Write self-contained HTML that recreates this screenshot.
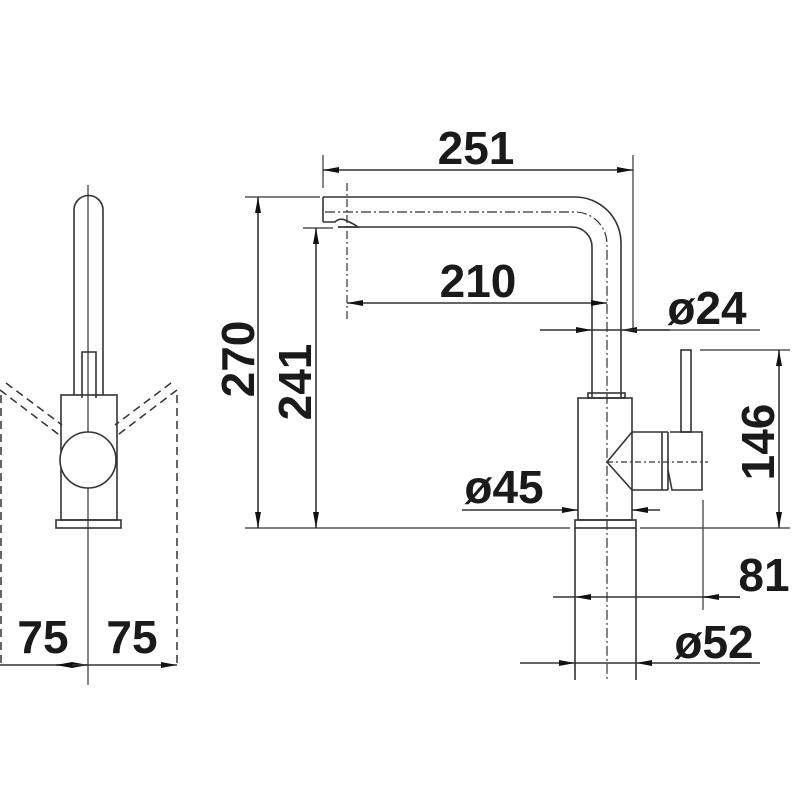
<!DOCTYPE html>
<html><head><meta charset="utf-8"><style>
html,body{margin:0;padding:0;background:#fff}
svg{display:block}
text{font-family:"Liberation Sans",sans-serif;font-weight:bold;font-size:46px;fill:#1a1a1a;text-anchor:middle}
</style></head><body>
<svg width="800" height="800" viewBox="0 0 800 800" xmlns="http://www.w3.org/2000/svg">
<defs>
<marker id="a" viewBox="0 0 16 6" refX="16" refY="3" markerWidth="16" markerHeight="6" markerUnits="userSpaceOnUse" orient="auto-start-reverse">
<path d="M0,0 L16,3 L0,6 Z" fill="#111"/></marker>
</defs>
<g stroke="#333" stroke-width="1.6" fill="none">
<!-- LEFT VIEW -->
<line x1="88" y1="185" x2="88" y2="685" stroke-width="1.2"/>
<path d="M74,395 V210 A14.5,14.5 0 0 1 103,210 V395"/>
<path d="M82,398 V352 H96 V398"/>
<rect x="61" y="395" width="56" height="125"/>
<rect x="56" y="520" width="65" height="8"/>
<circle cx="88" cy="460" r="28" fill="#fff"/>
<g stroke-dasharray="8,5" stroke-width="1.5">
<line x1="0" y1="390" x2="62" y2="437"/><line x1="6" y1="383" x2="62" y2="425"/>
<line x1="177" y1="390" x2="115" y2="437"/><line x1="171" y1="383" x2="115" y2="425"/>
<line x1="1" y1="395" x2="1" y2="665"/><line x1="177" y1="395" x2="177" y2="665"/>
</g>
<line x1="0" y1="665" x2="88" y2="665" marker-end="url(#a)"/>
<line x1="88" y1="665" x2="177" y2="665" marker-end="url(#a)"/>
<line x1="56" y1="665" x2="88" y2="665" marker-start="url(#a)"/>

<!-- MAIN VIEW spout -->
<path d="M323,197 H575 A46,46 0 0 1 621,243 V398"/>
<path d="M338,227 H572 A20,20 0 0 1 592,247 V398"/>
<line x1="323" y1="197" x2="323" y2="222"/>
<path d="M323,222 H335 Q340,217 347,221 Q354,224 358,227 H338"/>
<path d="M325,212 H575 A32,32 0 0 1 607,244 V680" stroke-dasharray="10,3,2,3" stroke-width="1.2"/>
<line x1="347" y1="183" x2="347" y2="320" stroke-dasharray="8,3,2,3" stroke-width="1.2"/>
<rect x="588" y="393" width="37" height="5"/>
<rect x="578" y="398" width="54" height="122"/>
<rect x="575" y="520" width="61" height="8"/>
<line x1="575" y1="528" x2="575" y2="680"/>
<line x1="636" y1="528" x2="636" y2="680"/>
<!-- handle -->
<path d="M632,432 H668 M632,490 H668 M632,432 L607,462 L632,490"/>
<path d="M668,432 V490 M662,432 V490" />
<path d="M670,432 H702 V490 H672 L668,470"/>
<rect x="681" y="350" width="10" height="82"/>
<line x1="607" y1="462" x2="708" y2="462" stroke-dasharray="6,3,2,3" stroke-width="1.2"/>

<!-- dims -->
<line x1="323" y1="155" x2="323" y2="188" stroke-width="1.2"/>
<line x1="633" y1="155" x2="633" y2="330" stroke-width="1.2"/>
<line x1="323" y1="170" x2="633" y2="170" marker-start="url(#a)" marker-end="url(#a)"/>
<line x1="347" y1="303" x2="607" y2="303" marker-start="url(#a)" marker-end="url(#a)"/>
<line x1="540" y1="330" x2="592" y2="330" marker-end="url(#a)"/>
<line x1="670" y1="330" x2="621" y2="330" marker-end="url(#a)"/>
<line x1="592" y1="330" x2="621" y2="330"/>
<line x1="621" y1="330" x2="760" y2="330" stroke-width="1.2"/>
<line x1="245" y1="197" x2="320" y2="197" stroke-width="1.2"/>
<line x1="303" y1="228" x2="333" y2="228" stroke-width="1.2"/>
<line x1="245" y1="528" x2="570" y2="528" stroke-width="1.2"/>
<line x1="258" y1="197" x2="258" y2="528" marker-start="url(#a)" marker-end="url(#a)"/>
<line x1="316" y1="228" x2="316" y2="528" marker-start="url(#a)" marker-end="url(#a)"/>
<line x1="462" y1="510" x2="578" y2="510" marker-end="url(#a)"/>
<line x1="660" y1="510" x2="632" y2="510" marker-end="url(#a)"/>
<line x1="700" y1="350" x2="790" y2="350" stroke-width="1.2"/>
<line x1="640" y1="528" x2="790" y2="528" stroke-width="1.2"/>
<line x1="779" y1="350" x2="779" y2="528" marker-start="url(#a)" marker-end="url(#a)"/>
<line x1="703" y1="500" x2="703" y2="610" stroke-width="1.2"/>
<line x1="553" y1="597" x2="575" y2="597"/>
<line x1="575" y1="597" x2="607" y2="597" marker-start="url(#a)"/>
<line x1="607" y1="597" x2="740" y2="597"/>
<line x1="740" y1="597" x2="703" y2="597" marker-end="url(#a)"/>
<line x1="520" y1="663" x2="575" y2="663" marker-end="url(#a)"/>
<line x1="760" y1="663" x2="636" y2="663" marker-end="url(#a)"/>
<line x1="575" y1="663" x2="636" y2="663"/>
</g>
<g>
<text x="476" y="164">251</text>
<text x="478" y="297">210</text>
<text x="707" y="324">ø24</text>
<text x="504" y="503">ø45</text>
<text x="764" y="591">81</text>
<text x="714" y="658">ø52</text>
<text x="43" y="653">75</text>
<text x="132" y="653">75</text>
<text transform="translate(254,359) rotate(-90)">270</text>
<text transform="translate(311,382) rotate(-90)">241</text>
<text transform="translate(774,442) rotate(-90)">146</text>
</g>
</svg>
</body></html>
